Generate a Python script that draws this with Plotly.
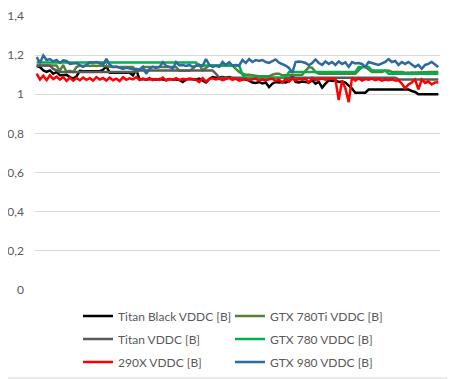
import plotly.graph_objects as go

# ---------------- data ----------------
samples = list(range(1, 123))

titan_black = [1.144, 1.139, 1.122, 1.114, 1.122, 1.105, 1.114, 1.097, 1.097, 1.1,
               1.088, 1.08, 1.092, 1.12, 1.118, 1.118, 1.118, 1.118, 1.118, 1.118,
               1.125, 1.144, 1.11, 1.11, 1.11, 1.11, 1.11, 1.11, 1.11, 1.097,
               1.125, 1.076, 1.078, 1.075, 1.078, 1.076, 1.075, 1.078, 1.075, 1.073,
               1.078, 1.075, 1.076, 1.073, 1.063, 1.075, 1.078, 1.076, 1.075, 1.08,
               1.072, 1.06, 1.078, 1.088, 1.085, 1.088, 1.088, 1.085, 1.088, 1.082,
               1.08, 1.078, 1.08, 1.075, 1.07, 1.06, 1.058, 1.063, 1.055, 1.06,
               1.037, 1.054, 1.063, 1.06, 1.063, 1.06, 1.065, 1.1, 1.063, 1.06,
               1.065, 1.063, 1.06, 1.071, 1.054, 1.063, 1.034, 1.054, 1.071, 1.068,
               1.071, 1.063, 1.065, 1.06, 1.046, 1.029, 1.008, 1.008, 1.008, 1.008,
               1.024, 1.025, 1.025, 1.025, 1.025, 1.025, 1.025, 1.025, 1.025, 1.025,
               1.025, 1.025, 1.025, 1.017, 1.012, 1.0, 1.0, 1.0, 1.0, 1.0,
               1.0, 1.0]

gtx780ti = [1.147, 1.147, 1.147, 1.147, 1.147, 1.147, 1.147, 1.12, 1.15, 1.114,
            1.12, 1.114, 1.139, 1.147, 1.145, 1.147, 1.144, 1.147, 1.145, 1.147,
            1.145, 1.144, 1.139, 1.139, 1.139, 1.139, 1.139, 1.139, 1.139, 1.139,
            1.114, 1.125, 1.139, 1.139, 1.139, 1.139, 1.139, 1.139, 1.139, 1.139,
            1.139, 1.139, 1.139, 1.12, 1.12, 1.118, 1.12, 1.13, 1.147, 1.15,
            1.122, 1.135, 1.147, 1.147, 1.147, 1.147, 1.147, 1.147, 1.147, 1.147,
            1.13, 1.114, 1.105, 1.1, 1.1, 1.097, 1.092, 1.092, 1.092, 1.092,
            1.092, 1.1, 1.105, 1.105, 1.097, 1.097, 1.097, 1.097, 1.097, 1.097,
            1.1, 1.12, 1.139, 1.135, 1.114, 1.105, 1.105, 1.108, 1.105, 1.105,
            1.108, 1.105, 1.105, 1.108, 1.105, 1.105, 1.105, 1.122, 1.139, 1.139,
            1.128, 1.114, 1.114, 1.114, 1.114, 1.12, 1.122, 1.114, 1.114, 1.114,
            1.114, 1.11, 1.11, 1.11, 1.11, 1.112, 1.11, 1.112, 1.114, 1.114,
            1.114, 1.114]

titan = ([1.147] * 5 + [1.13, 1.122] + [1.114] * 23 + [1.122] * 24 + [1.105]
         + [1.085] * 54 + [1.076] * 13)

gtx780 = ([1.163] * 49 + [1.147] * 13 + [1.10] + [1.085] * 13 + [1.114] * 21
          + [1.139] * 4 + [1.122] * 5 + [1.105] * 16)

r290x = [1.105, 1.075, 1.095, 1.072, 1.097, 1.078, 1.09, 1.075, 1.088, 1.068,
         1.085, 1.07, 1.083, 1.072, 1.086, 1.074, 1.082, 1.07, 1.088, 1.075,
         1.083, 1.07, 1.085, 1.072, 1.08, 1.068, 1.087, 1.074, 1.082, 1.076,
         1.088, 1.073, 1.08, 1.075, 1.083, 1.072, 1.078, 1.074, 1.085, 1.07,
         1.078, 1.075, 1.082, 1.072, 1.079, 1.074, 1.08, 1.076, 1.075, 1.063,
         1.083, 1.065, 1.078, 1.082, 1.076, 1.08, 1.072, 1.078, 1.083, 1.074,
         1.08, 1.07, 1.076, 1.078, 1.072, 1.078, 1.08, 1.07, 1.076, 1.072,
         1.078, 1.08, 1.068, 1.076, 1.06, 1.078, 1.065, 1.08, 1.07, 1.078,
         1.075, 1.08, 1.06, 1.083, 1.072, 1.078, 1.08, 1.074, 1.078, 1.08,
         1.075, 0.97, 1.07, 1.03, 0.96, 1.085, 1.07, 1.082, 1.07, 1.078,
         1.075, 1.08, 1.072, 1.078, 1.07, 1.075, 1.072, 1.076, 1.07, 1.072,
         1.055, 1.03, 1.05, 1.06, 1.075, 1.025, 1.075, 1.058, 1.065, 1.05,
         1.06, 1.062]

gtx980 = [1.19, 1.16, 1.198, 1.175, 1.18, 1.168, 1.175, 1.16, 1.173, 1.17,
          1.155, 1.156, 1.16, 1.148, 1.14, 1.15, 1.164, 1.162, 1.165, 1.16,
          1.15, 1.181, 1.15, 1.14, 1.142, 1.135, 1.13, 1.135, 1.13, 1.128,
          1.13, 1.125, 1.14, 1.105, 1.13, 1.14, 1.135, 1.14, 1.164, 1.145,
          1.14, 1.13, 1.164, 1.147, 1.15, 1.145, 1.15, 1.14, 1.145, 1.15,
          1.145, 1.18, 1.15, 1.14, 1.145, 1.14, 1.165, 1.15, 1.164, 1.147,
          1.15, 1.147, 1.175, 1.16, 1.18, 1.165, 1.175, 1.17, 1.175, 1.165,
          1.16, 1.168, 1.178, 1.162, 1.156, 1.147, 1.135, 1.11, 1.165, 1.168,
          1.165, 1.16, 1.148, 1.16, 1.178, 1.16, 1.15, 1.168, 1.155, 1.165,
          1.15, 1.168, 1.155, 1.163, 1.14, 1.165, 1.158, 1.16, 1.155, 1.14,
          1.165, 1.158, 1.155, 1.15, 1.158, 1.165, 1.18, 1.165, 1.17, 1.15,
          1.165, 1.155, 1.165, 1.15, 1.14, 1.15, 1.13, 1.15, 1.155, 1.165,
          1.15, 1.14]

y_tick_vals = [0, 0.2, 0.4, 0.6, 0.8, 1.0, 1.2, 1.4]
y_tick_text = ["0", "0,2", "0,4", "0,6", "0,8", "1", "1,2", "1,4"]

# (name, values, colour, legend row)
series = [
    ("Titan Black VDDC [B]", titan_black, "#000000", "legend"),
    ("GTX 780Ti VDDC [B]", gtx780ti, "#548235", "legend"),
    ("Titan VDDC [B]", titan, "#595959", "legend2"),
    ("GTX 780 VDDC [B]", gtx780, "#00B050", "legend2"),
    ("290X VDDC [B]", r290x, "#FF0000", "legend3"),
    ("GTX 980 VDDC [B]", gtx980, "#2E6A9E", "legend3"),
]

# ---------------- figure ----------------
fig = go.Figure()
for name, vals, col, lg in series:
    fig.add_trace(go.Scatter(
        x=samples, y=vals, name=name, mode="lines",
        line=dict(color=col, width=2.5), legend=lg,
    ))

# The page body has an 8px margin, so every pixel position is shifted by -8.
OFF = 8
W, H = 455, 379
plot_left, plot_right, plot_top, plot_bottom = 35 - OFF, 440 - OFF, 16 - OFF, 290 - OFF
L, R, T, B = plot_left, W - plot_right, plot_top, H - plot_bottom
pw, ph = plot_right - plot_left, plot_bottom - plot_top
FONT = "Lato, Open Sans, sans-serif"


def px_x(px):
    return (px - OFF - plot_left) / pw


def px_y(py):
    return (plot_bottom - (py - OFF)) / ph


def legend_row(center_y):
    return dict(
        orientation="h",
        x=px_x(78), xanchor="left",
        y=px_y(center_y), yanchor="middle",
        entrywidth=107, entrywidthmode="pixels",
        font=dict(family=FONT, size=12, color="#595959"),
        bgcolor="rgba(0,0,0,0)",
    )


fig.update_layout(
    width=W, height=H,
    margin=dict(l=L, r=R, t=T, b=B, pad=0, autoexpand=False),
    paper_bgcolor="white", plot_bgcolor="white",
    font=dict(family=FONT, size=12, color="#595959"),
    showlegend=True,
    legend=legend_row(316),
    legend2=legend_row(339),
    legend3=legend_row(362),
    xaxis=dict(
        range=[0.5, 122.5], showgrid=False, zeroline=False,
        showticklabels=False, ticks="", showline=False, fixedrange=True,
        automargin=False,
    ),
    yaxis=dict(
        range=[0, 1.4], tickvals=y_tick_vals, ticktext=y_tick_text,
        showgrid=True, gridcolor="#D9D9D9", gridwidth=1,
        zeroline=False, showline=False, ticks="",
        ticklabelstandoff=10, automargin=False,
        tickfont=dict(family=FONT, size=12, color="#595959"),
        fixedrange=True,
    ),
)

# chart-area border (right and bottom edges visible in reference)
fig.add_shape(type="line", xref="paper", yref="paper",
              x0=px_x(454), x1=px_x(454), y0=px_y(0), y1=px_y(378),
              line=dict(color="#D9D9D9", width=1))
fig.add_shape(type="line", xref="paper", yref="paper",
              x0=px_x(0), x1=px_x(454), y0=px_y(378), y1=px_y(378),
              line=dict(color="#D9D9D9", width=1))

fig.write_html("out.html")
